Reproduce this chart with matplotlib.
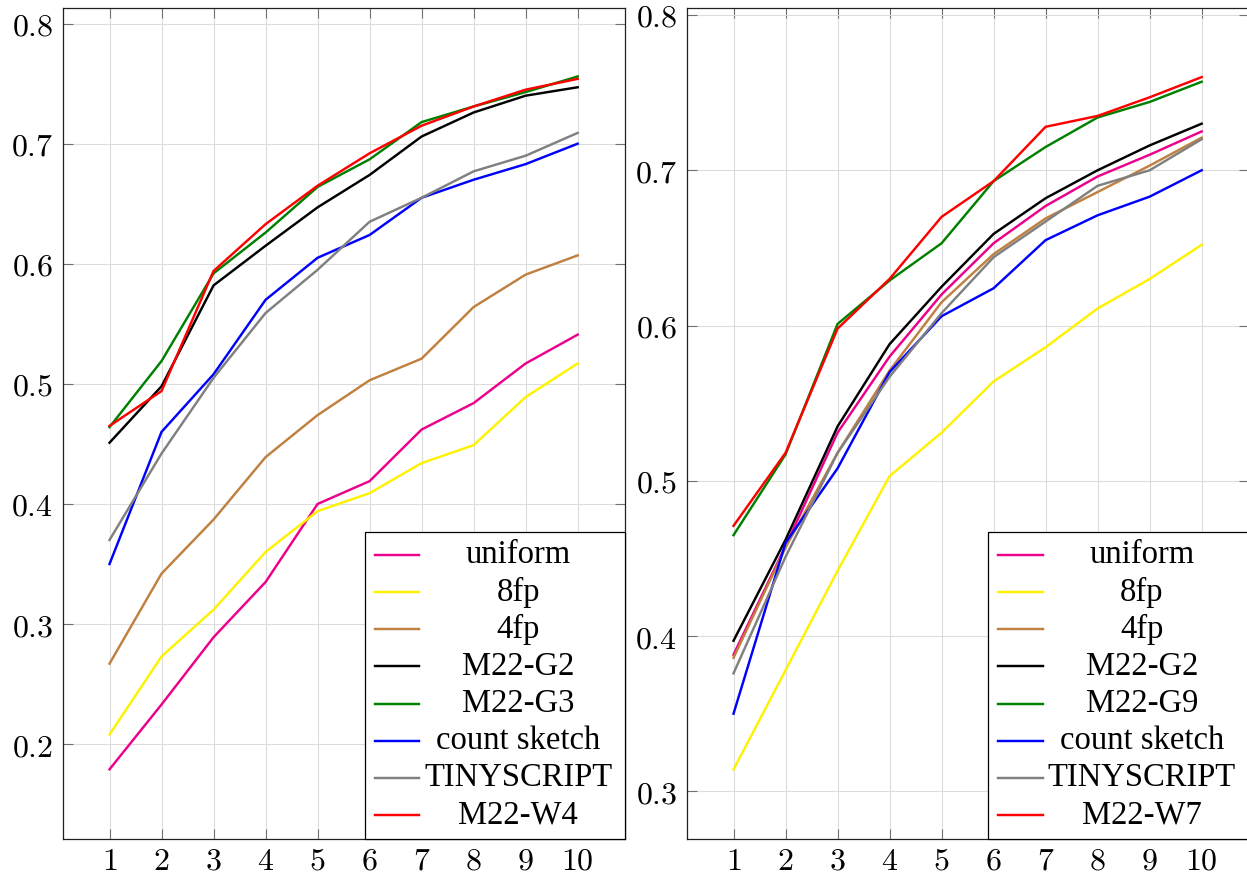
import matplotlib
matplotlib.use("Agg")
import matplotlib.pyplot as plt
from matplotlib.ticker import FuncFormatter, FixedLocator
from matplotlib.patches import Rectangle
from matplotlib.lines import Line2D

plt.rcParams['mathtext.fontset'] = 'cm'

x = [1, 2, 3, 4, 5, 6, 7, 8, 9, 10]

labels_left = ["uniform", "8fp", "4fp", "M22-G2", "M22-G3", "count sketch", "TINYSCRIPT", "M22-W4"]
labels_right = ["uniform", "8fp", "4fp", "M22-G2", "M22-G9", "count sketch", "TINYSCRIPT", "M22-W7"]
colors = ["#ec008c", "#fff200", "#bf8040", "#000000", "#008000", "#0000ff", "#808080", "#ff0000"]

# Left panel
uniform_L = [0.179, 0.233, 0.289, 0.335, 0.400, 0.419, 0.462, 0.484, 0.517, 0.541]
fp8_L = [0.208, 0.273, 0.312, 0.360, 0.394, 0.409, 0.434, 0.449, 0.489, 0.517]
fp4_L = [0.267, 0.342, 0.387, 0.439, 0.474, 0.503, 0.521, 0.564, 0.591, 0.607]
g2_L = [0.451, 0.498, 0.582, 0.615, 0.647, 0.674, 0.706, 0.726, 0.740, 0.747]
g3_L = [0.464, 0.519, 0.592, 0.626, 0.664, 0.687, 0.718, 0.731, 0.743, 0.756]
cs_L = [0.350, 0.460, 0.508, 0.570, 0.605, 0.624, 0.655, 0.670, 0.683, 0.700]
tiny_L = [0.370, 0.442, 0.505, 0.559, 0.595, 0.635, 0.655, 0.677, 0.690, 0.709]
w4_L = [0.465, 0.494, 0.594, 0.633, 0.665, 0.692, 0.715, 0.731, 0.745, 0.754]

# Right panel
uniform_R = [0.388, 0.458, 0.531, 0.580, 0.620, 0.653, 0.677, 0.696, 0.710, 0.725]
fp8_R = [0.314, 0.378, 0.442, 0.503, 0.531, 0.564, 0.586, 0.611, 0.630, 0.652]
fp4_R = [0.386, 0.457, 0.518, 0.571, 0.615, 0.646, 0.669, 0.686, 0.703, 0.721]
g2_R = [0.397, 0.462, 0.535, 0.588, 0.625, 0.659, 0.682, 0.700, 0.716, 0.730]
g9_R = [0.465, 0.517, 0.601, 0.629, 0.653, 0.693, 0.715, 0.734, 0.744, 0.757]
cs_R = [0.350, 0.460, 0.508, 0.570, 0.606, 0.624, 0.655, 0.671, 0.683, 0.700]
tiny_R = [0.376, 0.451, 0.518, 0.567, 0.608, 0.644, 0.667, 0.690, 0.700, 0.720]
w7_R = [0.471, 0.518, 0.598, 0.630, 0.670, 0.693, 0.728, 0.735, 0.747, 0.760]

series_left = [uniform_L, fp8_L, fp4_L, g2_L, g3_L, cs_L, tiny_L, w4_L]
series_right = [uniform_R, fp8_R, fp4_R, g2_R, g9_R, cs_R, tiny_R, w7_R]

yticks_left = [0.2, 0.3, 0.4, 0.5, 0.6, 0.7, 0.8]
yticks_right = [0.3, 0.4, 0.5, 0.6, 0.7, 0.8]

W, H = 1247, 876
fig = plt.figure(figsize=(W / 100, H / 100), dpi=100)


def fx(px):
    return px / W


def fy(py):
    return 1 - py / H


def make_ax(l, r, t, b):
    return fig.add_axes([fx(l), fy(b), fx(r) - fx(l), fy(t) - fy(b)])


axL = make_ax(62.7, 624.5, 8, 839)
axR = make_ax(686.7, 1248.5, 8, 839)


def style(ax, series, yticks, ylim):
    for s, c in zip(series, colors):
        ax.plot(x, s, color=c, lw=1.75, solid_joinstyle='miter', zorder=3)
    ax.set_xlim(0.1, 10.9)
    ax.set_ylim(*ylim)
    ax.xaxis.set_major_locator(FixedLocator(x))
    ax.yaxis.set_major_locator(FixedLocator(yticks))
    ax.xaxis.set_major_formatter(FuncFormatter(lambda v, p: f"${int(v)}$"))
    ax.yaxis.set_major_formatter(FuncFormatter(lambda v, p: f"${v:.1f}$"))
    ax.grid(True, color="#dcdcdc", lw=0.8, zorder=0)
    ax.set_axisbelow(True)
    ax.tick_params(direction='in', length=7.5, width=0.8, color="#707070",
                   top=True, right=True, labelsize=23, pad=7)
    ax.tick_params(axis='x', pad=5)
    for sp in ax.spines.values():
        sp.set_color("#202020")
        sp.set_linewidth(0.9)


style(axL, series_left, yticks_left, (0.121, 0.813))
style(axR, series_right, yticks_right, (0.2693, 0.8045))


def legend(box_l, box_r, labels, line_x0, line_x1, text_cx):
    top, bot = 531.7, 839
    fig.add_artist(Rectangle((fx(box_l), fy(bot)), fx(box_r) - fx(box_l), fy(top) - fy(bot),
                             transform=fig.transFigure, facecolor='white',
                             edgecolor='black', lw=0.9, zorder=5))
    for i, (lab, c) in enumerate(zip(labels, colors)):
        yc = 555 + i * 37.15
        fig.add_artist(Line2D([fx(line_x0), fx(line_x1)], [fy(yc), fy(yc)],
                              transform=fig.transFigure, color=c, lw=1.75, zorder=6))
        fig.text(fx(text_cx), fy(yc), lab, ha='center', va='center',
                 family='Liberation Serif', fontsize=23.5, zorder=6)


legend(365, 624.5, labels_left, 375, 419.3, 518.3)
legend(988.3, 1250, labels_right, 998.3, 1043.3, 1141.7)

fig.savefig("out.png", dpi=100)
